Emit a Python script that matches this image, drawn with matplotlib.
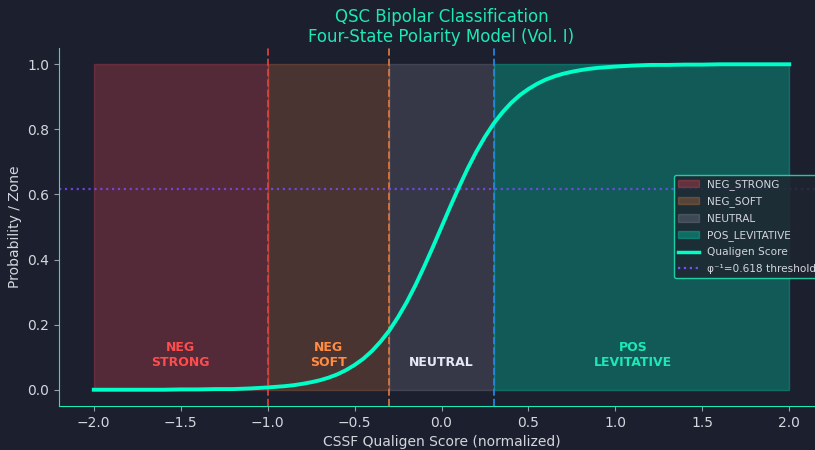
# ===============================================
# QSC BIPOLAR CLASSIFICATION CHART
# ===============================================

import numpy as np
import matplotlib
matplotlib.use("Agg")
import matplotlib.pyplot as plt
from matplotlib.patches import Patch
from matplotlib.lines import Line2D

# ===============================================
# DATA
# ===============================================
score_x = [-2.0, -1.9, -1.8, -1.7, -1.6, -1.5, -1.4, -1.3, -1.2, -1.1,
           -1.0, -0.95, -0.9, -0.85, -0.8, -0.75, -0.7, -0.65, -0.6, -0.55,
           -0.5, -0.45, -0.4, -0.35, -0.3, -0.25, -0.2, -0.15, -0.1, -0.05,
           0.0, 0.05, 0.1, 0.15, 0.2, 0.25, 0.3, 0.35, 0.4, 0.45,
           0.5, 0.55, 0.6, 0.65, 0.7, 0.75, 0.8, 0.85, 0.9, 0.95,
           1.0, 1.1, 1.2, 1.3, 1.4, 1.5, 1.6, 1.7, 1.8, 1.9, 2.0]
score_y = [0.000, 0.000, 0.000, 0.000, 0.000, 0.001, 0.001, 0.002, 0.002, 0.004,
           0.007, 0.009, 0.011, 0.014, 0.018, 0.023, 0.029, 0.037, 0.047, 0.060,
           0.076, 0.095, 0.119, 0.148, 0.182, 0.223, 0.269, 0.321, 0.378, 0.438,
           0.500, 0.562, 0.622, 0.679, 0.731, 0.777, 0.818, 0.852, 0.881, 0.905,
           0.924, 0.940, 0.953, 0.963, 0.971, 0.977, 0.982, 0.986, 0.989, 0.991,
           0.993, 0.996, 0.998, 0.998, 0.999, 0.999, 1.000, 1.000, 1.000, 1.000, 1.000]

zone_names = ["NEG_STRONG", "NEG_SOFT", "NEUTRAL", "POS_LEVITATIVE"]
zone_labels = ["NEG\nSTRONG", "NEG\nSOFT", "NEUTRAL", "POS\nLEVITATIVE"]
zone_start = [-2.0, -1.0, -0.3, 0.3]
zone_end = [-1.0, -0.3, 0.3, 2.0]
zone_label_x = [-1.5, -0.65, 0.0, 1.1]

boundaries = [-1.0, -0.3, 0.3]
threshold = 0.618

# ===============================================
# STYLE
# ===============================================
bg = "#1c1f2e"
teal = "#1de9b6"
curve_col = "#00ffc8"
text_col = "#d4d6de"

zone_fill = ["#ff4757", "#ff8c42", "#a0a0b4", "#00c9a7"]
zone_alpha = [0.25, 0.2, 0.2, 0.35]
zone_text = ["#ff4d4d", "#ff8c42", "#e6e8f5", "#1de9b6"]
boundary_cols = ["#e0413a", "#d9773f", "#1e88e5"]

# ===============================================
# FIGURE
# ===============================================
fig = plt.figure(figsize=(8.15, 4.5), dpi=100, facecolor=bg)
ax = fig.add_axes([59 / 815, 44 / 450, 765 / 815, 358 / 450], facecolor=bg)

# zones
for i in range(len(zone_names)):
    ax.fill_between([zone_start[i], zone_end[i]], 0, 1, color=zone_fill[i],
                    alpha=zone_alpha[i], edgecolor=zone_fill[i], linewidth=1)
    ax.text(zone_label_x[i], 0.065, zone_labels[i], color=zone_text[i],
            fontsize=9, fontweight="bold", ha="center", va="bottom")

# boundaries
for b, c in zip(boundaries, boundary_cols):
    ax.axvline(b, color=c, linestyle="--", linewidth=1.4, alpha=0.9)

ax.axhline(threshold, color="#7c4dff", linestyle=":", linewidth=1.6, alpha=0.8)

# score curve
ax.plot(score_x, score_y, color=curve_col, linewidth=2.8)

ax.set_xlim(-2.2, 2.2)
ax.set_ylim(-0.05, 1.05)
ax.set_xticks(np.arange(-2.0, 2.01, 0.5))
ax.set_yticks(np.arange(0.0, 1.01, 0.2))

ax.set_xlabel("CSSF Qualigen Score (normalized)", color=text_col, fontsize=10)
ax.set_ylabel("Probability / Zone", color=text_col, fontsize=10)
ax.set_title("QSC Bipolar Classification\nFour-State Polarity Model (Vol. I)",
             color=teal, fontsize=12, linespacing=1.2, pad=4)

ax.tick_params(colors="#9a9cab", labelcolor=text_col, labelsize=10)
for s in ["top", "right"]:
    ax.spines[s].set_visible(False)
for s in ["left", "bottom"]:
    ax.spines[s].set_color(teal)

# ===============================================
# LEGEND
# ===============================================
handles = []
for i in range(len(zone_names)):
    handles.append(Patch(facecolor=zone_fill[i], alpha=zone_alpha[i] + 0.05,
                         edgecolor=zone_fill[i], label=zone_names[i]))
handles.append(Line2D([0], [0], color=curve_col, linewidth=2.5, label="Qualigen Score"))
handles.append(Line2D([0], [0], color="#7c4dff", linestyle=":", linewidth=1.6,
                      label="φ⁻¹=0.618 threshold"))

leg = ax.legend(handles=handles, loc="center left", bbox_to_anchor=(674 / 815, 0.497),
                bbox_transform=fig.transFigure, fontsize=7.6, facecolor="#1e2530",
                edgecolor=teal, framealpha=0.85, labelcolor=text_col,
                borderaxespad=0, labelspacing=0.6, borderpad=0.4,
                handletextpad=0.7)

plt.savefig("out.png", dpi=100, facecolor=bg)
plt.close()
